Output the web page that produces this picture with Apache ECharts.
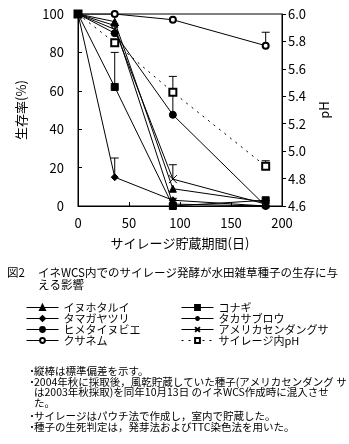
<!DOCTYPE html>
<html>
<head>
<meta charset="utf-8">
<script src="https://cdn.jsdelivr.net/npm/echarts@6/dist/echarts.min.js"></script>
<style>
  html, body { margin: 0; padding: 0; background: #fff; }
  #chart { width: 349px; height: 444px; }
</style>
</head>
<body>
<div id="chart"></div>
<script>
// Storage days of the silage
const days = [0, 36, 93, 184];

// Survival rate (%) of each weed species
const inuhotarui = [100, 96, 9, 2];
const tamagayatsuri = [100, 15, 3, 0];
const himetainubie = [100, 90, 47.5, 0];
const kusanemu = [100, 100, 97, 83.5];
const konagi = [100, 62, 0, 3];
const takasaburou = [100, 94, 1, 0];
const amerikasendangusa = [100, 92, 14, 1];

// pH inside the silage
const silagePh = [6.0, 5.79, 5.43, 4.89];

// Standard deviations (upper bars only)
const tamagayatsuriSd = [0, 10, 0, 0];
const himetainubieSd = [0, 0, 20, 0];
const kusanemuSd = [0, 0, 0, 7];
const konagiSd = [0, 18, 0, 0];
const takasaburouSd = [0, 0, 3, 0];
const amerikasendangusaSd = [0, 0, 7.5, 0];
const silagePhSd = [0, 0, 0, 0.04];

// Tick labels
const xTicks = [0, 50, 100, 150, 200];
const survivalTicks = [0, 20, 40, 60, 80, 100];
const phTicks = [4.6, 4.8, 5.0, 5.2, 5.4, 5.6, 5.8, 6.0];

const FONT = '"Noto Sans CJK JP", "Noto Sans", sans-serif';
const asterisk = 'path://M0,-5L0,5M-4.33,-2.5L4.33,2.5M-4.33,2.5L4.33,-2.5M-5,0L5,0';
const cross = 'path://M-5,-4L5,4M-5,4L5,-4';

const pairs = (ys) => days.map((d, i) => [d, ys[i]]);
const bars = (ys, sds) => days.map((d, i) => [d, ys[i], sds[i]]).filter(r => r[2] > 0);

function lineSeries(name, ys, symbol, size, extra) {
  return Object.assign({
    name: name,
    type: 'line',
    data: pairs(ys),
    symbol: symbol,
    symbolSize: size,
    showAllSymbol: true,
    z: 3,
    lineStyle: { color: '#000', width: 1 },
    itemStyle: { color: '#000', borderColor: '#000', borderWidth: 1 },
    emphasis: { disabled: true },
    animation: false
  }, extra || {});
}

function errorSeries(ys, sds, yAxisIndex) {
  return {
    type: 'custom',
    yAxisIndex: yAxisIndex || 0,
    z: 2,
    silent: true,
    animation: false,
    data: bars(ys, sds),
    encode: { x: 0, y: [1, 2] },
    renderItem: function (params, api) {
      const x = api.value(0), y = api.value(1), sd = api.value(2);
      const p0 = api.coord([x, y]);
      const p1 = api.coord([x, y + sd]);
      const style = { stroke: '#000', lineWidth: 1 };
      return {
        type: 'group',
        children: [
          { type: 'line', shape: { x1: p0[0], y1: p0[1], x2: p1[0], y2: p1[1] }, style: style },
          { type: 'line', shape: { x1: p1[0] - 4, y1: p1[1], x2: p1[0] + 4, y2: p1[1] }, style: style }
        ]
      };
    }
  };
}

const chart = echarts.init(document.getElementById('chart'), null, { renderer: 'canvas' });

const tickText = { color: '#000', fontFamily: FONT, fontSize: 13 };
const legendCommon = {
  orient: 'vertical', top: 297,
  itemWidth: 32, itemHeight: 6, itemGap: 0,
  lineStyle: { width: 1 },
  textStyle: { color: '#000', fontFamily: FONT, fontSize: 11, lineHeight: 11 },
  selectedMode: false
};

chart.setOption({
  backgroundColor: '#fff',
  animation: false,
  textStyle: { fontFamily: FONT, color: '#000' },
  grid: {
    left: 78, right: 67, top: 14, bottom: 238,
    show: true, borderColor: '#000', borderWidth: 1, backgroundColor: 'transparent'
  },
  xAxis: {
    type: 'value',
    min: xTicks[0], max: xTicks[xTicks.length - 1], interval: 50,
    name: 'サイレージ貯蔵期間(日)',
    nameLocation: 'middle', nameGap: 31,
    nameTextStyle: tickText,
    axisLine: { lineStyle: { color: '#000', width: 1 } },
    axisTick: { inside: true, length: 4, lineStyle: { color: '#000' } },
    axisLabel: Object.assign({ margin: 11 }, tickText),
    splitLine: { show: false }
  },
  yAxis: [
    {
      type: 'value',
      min: survivalTicks[0], max: survivalTicks[survivalTicks.length - 1], interval: 20,
      name: '生存率(%)',
      nameLocation: 'middle', nameGap: 50, nameRotate: 90,
      nameTextStyle: tickText,
      axisLine: { show: true, lineStyle: { color: '#000', width: 1 } },
      axisTick: { show: true, inside: true, length: 4, lineStyle: { color: '#000' } },
      axisLabel: Object.assign({ margin: 14 }, tickText),
      splitLine: { show: false }
    },
    {
      type: 'value',
      position: 'right',
      min: phTicks[0], max: phTicks[phTicks.length - 1], interval: 0.2,
      name: 'pH',
      nameLocation: 'middle', nameGap: 36, nameRotate: 90,
      nameTextStyle: tickText,
      axisLine: { show: true, lineStyle: { color: '#000', width: 1 } },
      axisTick: { show: true, inside: false, length: 4, lineStyle: { color: '#000' } },
      axisLabel: Object.assign({ margin: 6, formatter: v => v.toFixed(1) }, tickText),
      splitLine: { show: false }
    }
  ],
  legend: [
    Object.assign({ left: 21, data: ['イヌホタルイ', 'タマガヤツリ', 'ヒメタイヌビエ', 'クサネム'] }, legendCommon),
    Object.assign({ left: 176, data: ['コナギ', 'タカサブロウ', 'アメリカセンダングサ', 'サイレージ内pH'] }, legendCommon)
  ],
  series: [
    errorSeries(tamagayatsuri, tamagayatsuriSd),
    errorSeries(himetainubie, himetainubieSd),
    errorSeries(kusanemu, kusanemuSd),
    errorSeries(konagi, konagiSd),
    errorSeries(takasaburou, takasaburouSd),
    errorSeries(amerikasendangusa, amerikasendangusaSd),
    errorSeries(silagePh, silagePhSd, 1),
    lineSeries('サイレージ内pH', silagePh, 'emptyRect', 7, {
      yAxisIndex: 1,
      lineStyle: { color: '#000', width: 1, type: [2, 5] }
    }),
    lineSeries('クサネム', kusanemu, 'emptyCircle', 6),
    lineSeries('ヒメタイヌビエ', himetainubie, 'circle', 7),
    lineSeries('アメリカセンダングサ', amerikasendangusa, cross, 8, {
      itemStyle: { color: 'none', borderColor: '#000', borderWidth: 1 }
    }),
    lineSeries('タカサブロウ', takasaburou, asterisk, 8, {
      itemStyle: { color: 'none', borderColor: '#000', borderWidth: 1 }
    }),
    lineSeries('イヌホタルイ', inuhotarui, 'triangle', 7),
    lineSeries('タマガヤツリ', tamagayatsuri, 'diamond', 7),
    lineSeries('コナギ', konagi, 'rect', 7)
  ],
  graphic: [
    { type: 'text', left: 7, top: 267, style: { text: '図2', fill: '#000', font: '11.5px ' + FONT } },
    {
      type: 'text', left: 38, top: 267,
      style: {
        text: 'イネWCS内でのサイレージ発酵が水田雑草種子の生存に与\nえる影響',
        fill: '#000', font: '11.5px ' + FONT, lineHeight: 12
      }
    },
    { type: 'text', left: 27, top: 366, style: { text: '・', fill: '#000', font: '10px ' + FONT } },
    { type: 'text', left: 27, top: 377, style: { text: '・', fill: '#000', font: '10px ' + FONT } },
    { type: 'text', left: 27, top: 411, style: { text: '・', fill: '#000', font: '10px ' + FONT } },
    { type: 'text', left: 27, top: 422, style: { text: '・', fill: '#000', font: '10px ' + FONT } },
    {
      type: 'text', left: 34, top: 366,
      style: {
        text: '縦棒は標準偏差を示す。\n2004年秋に採取後，風乾貯蔵していた種子(アメリカセンダング サ\nは2003年秋採取)を同年10月13日 のイネWCS作成時に混入させ\nた。',
        fill: '#000', font: '10.5px ' + FONT, lineHeight: 10.6
      }
    },
    {
      type: 'text', left: 34, top: 411,
      style: {
        text: 'サイレージはパウチ法で作成し，室内で貯蔵した。\n種子の生死判定は，発芽法およびTTC染色法を用いた。',
        fill: '#000', font: '10.5px ' + FONT, lineHeight: 11
      }
    }
  ]
});
</script>
</body>
</html>
